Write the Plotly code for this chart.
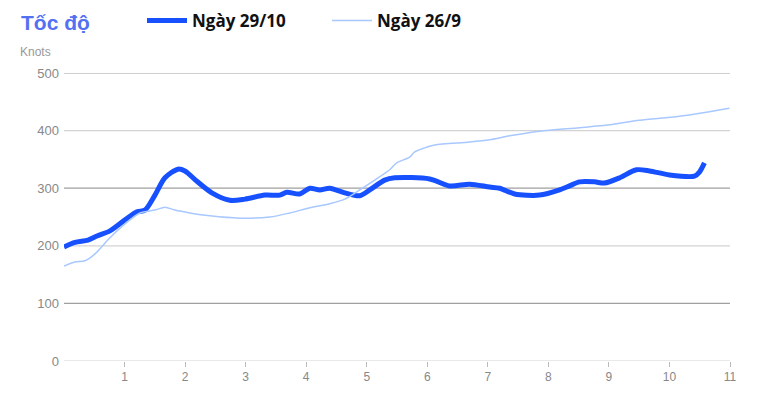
import plotly.graph_objects as go

# Ngày 29/10 (thick)
px_a = [64, 75, 88, 97, 110, 125, 137, 145, 155, 165, 178, 185, 197, 212, 230, 245, 265, 280, 287, 300,
        310, 320, 330, 345, 360, 370, 385, 395, 430, 450, 470, 490, 500, 515, 540, 560, 570, 580, 595,
        605, 620, 637, 650, 670, 695, 700, 705]
speed_a = [198, 206, 210, 217, 226, 245, 259, 262, 288, 318, 333, 330, 312, 292, 279, 281, 288, 288, 293, 290,
           300, 297, 300, 292, 287, 297, 314, 318, 316, 304, 307, 302, 300, 290, 288, 297, 304, 311, 311,
           309, 318, 332, 330, 323, 321, 328, 344]
# Ngày 26/9 (thin)
px_b = [64, 75, 85, 95, 110, 125, 140, 155, 165, 175, 190, 210, 240, 270, 290, 310, 330, 345, 360, 375,
        390, 397, 410, 415, 425, 435, 470, 490, 510, 540, 580, 610, 640, 680, 730]
speed_b = [165, 172, 174, 186, 214, 238, 257, 262, 267, 262, 257, 252, 248, 250, 257, 266, 273, 281, 297, 314,
           332, 344, 354, 363, 370, 375, 380, 384, 391, 399, 405, 410, 418, 425, 439]

time_a = [round((p - 64) / 60.6, 3) for p in px_a]
time_b = [round((p - 64) / 60.6, 3) for p in px_b]

x_ticks = list(range(1, 12))
y_ticks = [0, 100, 200, 300, 400, 500]

fig = go.Figure()
fig.add_trace(go.Scatter(x=time_a, y=speed_a, mode="lines", name="Ngày 29/10",
                         line=dict(color="#1650ff", width=5, shape="spline", smoothing=0.8)))
fig.add_trace(go.Scatter(x=time_b, y=speed_b, mode="lines", name="Ngày 26/9",
                         line=dict(color="#a8c8ff", width=1.5, shape="spline", smoothing=0.8)))

for v in y_ticks:
    fig.add_hline(y=v, line=dict(color="#a0a0a0" if (v // 100) % 2 == 1 else "#d3d3d3", width=1.2), layer="below")

# page body has an 8px offset, margins compensate
fig.update_layout(
    width=758, height=393,
    margin=dict(l=56, r=36, t=65, b=40, autoexpand=False),
    plot_bgcolor="white", paper_bgcolor="white",
    font=dict(family="Liberation Sans, Arial, sans-serif", color="#888"),
    showlegend=True,
    legend=dict(orientation="h", xref="container", yref="container", x=134 / 758, xanchor="left",
                y=1 - 13 / 393, yanchor="middle",
                font=dict(family="Open Sans, sans-serif", size=17, color="#111", weight=700),
                entrywidth=130, entrywidthmode="pixels", itemwidth=40, bgcolor="rgba(0,0,0,0)"),
    xaxis=dict(range=[0, 11], tickvals=x_ticks, ticks="outside", ticklen=5, tickcolor="#bbb",
               showgrid=False, zeroline=False, showline=False, automargin=False,
               tickfont=dict(size=12, color="#888")),
    yaxis=dict(range=[0, 500], tickvals=y_ticks, showgrid=False, zeroline=False, showline=False,
               automargin=False, ticks="", tickfont=dict(size=13, color="#888"), ticklabelstandoff=4),
)
fig.add_annotation(text="<b>Tốc độ</b>", xref="paper", yref="paper", x=(19 - 64) / 666, y=(361 - 22) / 288,
                   xanchor="left", yanchor="middle", showarrow=False,
                   font=dict(size=21, color="#5470f2", family="Liberation Sans, Arial, sans-serif"))
fig.add_annotation(text="Knots", xref="paper", yref="paper", x=(18 - 64) / 666, y=(361 - 52) / 288,
                   xanchor="left", yanchor="middle", showarrow=False,
                   font=dict(size=12, color="#999"))

fig.write_html("out.html")
